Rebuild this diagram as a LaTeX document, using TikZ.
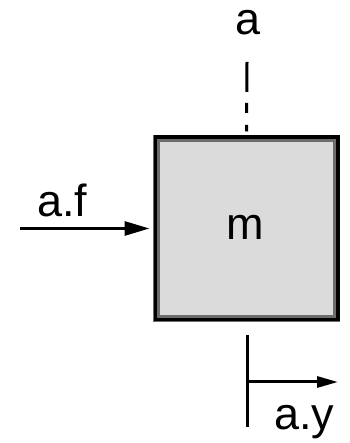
\documentclass[tikz,border=0pt]{standalone}
\usepackage{fontspec}
\setmainfont{Liberation Sans}
\usetikzlibrary{arrows.meta}
\begin{document}
\begin{tikzpicture}[x=1pt,y=1pt,
  lbl/.style={inner sep=0pt,font=\fontsize{45}{54}\selectfont},
  conn/.style={line width=3pt,black},
  massbox/.style={draw=gray!85!black,line width=7pt,fill=gray!28,minimum width=180pt,minimum height=180pt,inner sep=0pt}]
\useasboundingbox (0,0) rectangle (349,443);
\node[massbox] (box) at (246.5,214.5) {};
\draw[black,line width=3.5pt] ([shift={(2.25,-2.25)}]box.north west) rectangle ([shift={(-2.25,2.25)}]box.south east);
\node[lbl,anchor=base] (m) at (245,203) {m};
\node[lbl,anchor=base] (la) at (248,408) {a};
\node[lbl,anchor=base west] (laf) at (37,226) {a.f};
\node[lbl,anchor=base west] (lay) at (274,13) {a.y};
\coordinate (topend) at (247,381);
\coordinate (fin) at (20,214.5);
\coordinate (vtop) at (247,108);
\coordinate (vbot) at (247,16);
\coordinate (ystart) at (247,61);
\coordinate (yend) at (338,61);
\draw[conn,dash pattern=on 30pt off 11pt on 10pt off 12pt on 10pt off 100pt] (topend) -- ([yshift=3.5pt]box.north);
\draw[conn,-{Triangle[length=25pt,width=14pt]},shorten >=3.5pt] (fin) -- (box.west);
\draw[conn] (vtop) -- (vbot);
\draw[conn,-{Triangle[length=21pt,width=11pt]}] (ystart) -- (yend);
\end{tikzpicture}
\end{document}
